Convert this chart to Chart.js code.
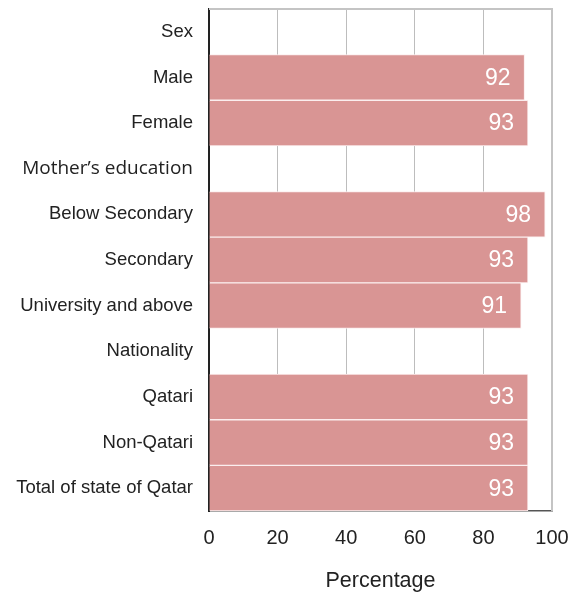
<!DOCTYPE html>
<html>
<head>
<meta charset="utf-8">
<script src="https://cdn.jsdelivr.net/npm/chart.js@4.4.1/dist/chart.umd.min.js"></script>
<style>
  html, body { margin: 0; padding: 0; background: #fff; }
</style>
</head>
<body>
<canvas id="chart" width="573" height="596"></canvas>
<script>
// rows of the chart, group headers have no value
var categories = ['Sex', 'Male', 'Female', 'Mother\u2019s education', 'Below Secondary', 'Secondary',
  'University and above', 'Nationality', 'Qatari', 'Non-Qatari', 'Total of state of Qatar'];
var percentages = [null, 92, 93, null, 98, 93, 91, null, 93, 93, 93];
var headerRows = [3]; // drawn in a different font
var xTicks = [0, 20, 40, 60, 80, 100];

// white value labels at the end of each bar
var valueLabels = {
  id: 'valueLabels',
  afterDatasetsDraw: function(chart) {
    var ctx = chart.ctx;
    var meta = chart.getDatasetMeta(0);
    ctx.save();
    ctx.fillStyle = '#ffffff';
    ctx.font = '23px "Liberation Sans", Arial, sans-serif';
    ctx.textAlign = 'right';
    ctx.textBaseline = 'middle';
    meta.data.forEach(function(bar, i) {
      var v = percentages[i];
      if (v == null) return;
      ctx.fillText(String(v), bar.x - 14, bar.y + 1);
    });
    ctx.restore();
  }
};

// light grey frame on top and right of the plot
var frame = {
  id: 'frame',
  beforeDatasetsDraw: function(chart) {
    var a = chart.chartArea;
    var ctx = chart.ctx;
    ctx.save();
    ctx.strokeStyle = '#c4c4c4';
    ctx.lineWidth = 2;
    ctx.beginPath();
    ctx.moveTo(a.left, a.top);
    ctx.lineTo(a.right, a.top);
    ctx.lineTo(a.right, a.bottom);
    ctx.stroke();
    ctx.restore();
  }
};

var ctx = document.getElementById('chart');

var barChart = new Chart(ctx, {
  type: 'bar',
  data: {
    labels: categories,
    datasets: [{
      data: percentages,
      backgroundColor: '#d99594',
      borderColor: '#fbeeee',
      borderWidth: 1,
      barPercentage: 1,
      categoryPercentage: 1
    }]
  },
  plugins: [frame, valueLabels],
  options: {
    indexAxis: 'y',
    responsive: false,
    animation: false,
    layout: { padding: { top: 9, right: 21, bottom: 0, left: 0 } },
    plugins: {
      legend: { display: false },
      tooltip: { enabled: false }
    },
    scales: {
      x: {
        min: 0,
        max: 100,
        afterBuildTicks: function(scale) {
          scale.ticks = xTicks.map(function(v) { return { value: v }; });
        },
        grid: { color: '#bdbdbd', lineWidth: 1, drawTicks: false },
        border: { color: '#555555', width: 1.5 },
        ticks: {
          color: '#222222',
          padding: 15,
          maxRotation: 0,
          autoSkip: false,
          font: { family: '"Liberation Sans", Arial, sans-serif', size: 20 }
        },
        title: {
          display: true,
          text: 'Percentage',
          color: '#222222',
          padding: { top: 0, bottom: 2 },
          font: { family: '"Liberation Sans", Arial, sans-serif', size: 21.5 }
        },
        afterFit: function(scale) {
          scale.height = 85;
          scale.paddingLeft = 0;
          scale.paddingRight = 0;
        }
      },
      y: {
        grid: { display: false, drawTicks: false },
        border: { color: '#222222', width: 2 },
        ticks: {
          color: '#222222',
          padding: 16,
          autoSkip: false,
          font: function(c) {
            if (headerRows.indexOf(c.index) >= 0) {
              return { family: '"Open Sans", sans-serif', size: 19 };
            }
            return { family: '"Liberation Sans", Arial, sans-serif', size: 18.5 };
          }
        },
        afterFit: function(scale) {
          scale.width = 209;
          scale.paddingTop = 0;
          scale.paddingBottom = 0;
        }
      }
    }
  }
});
</script>
</body>
</html>
